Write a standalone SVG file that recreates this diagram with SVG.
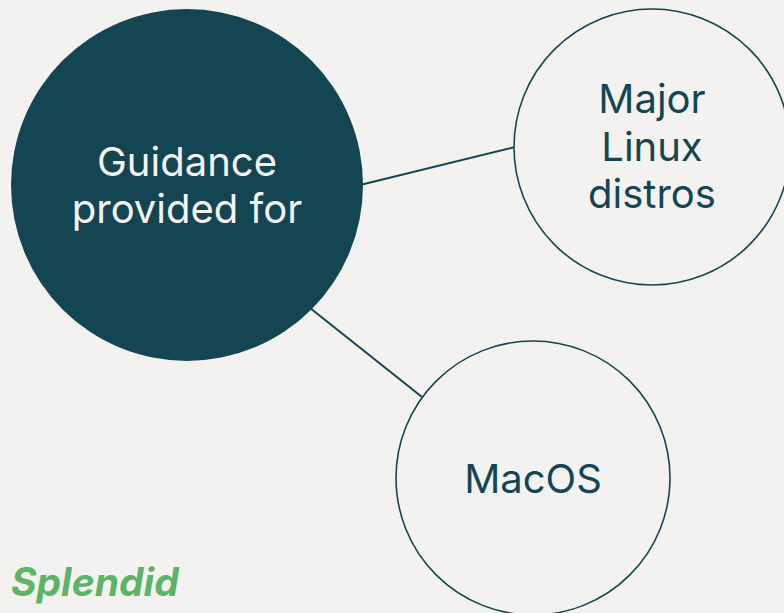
<svg xmlns="http://www.w3.org/2000/svg" width="784" height="613" viewBox="0 0 784 613">
  <style>
    .bg { fill: #f4f2f0; }
    .edge { stroke: #134652; stroke-width: 2; fill: none; }
    .hub { fill: #134652; }
    .leaf { fill: #f4f2f0; stroke: #134652; stroke-width: 1.6; }
    .label { font-family: Inter, "Noto Sans", "Liberation Sans", sans-serif; font-size: 40px; text-anchor: middle; }
    .hub-text { fill: #f4f2f0; }
    .leaf-text { fill: #134652; }
    .brand { font-family: Inter, "Liberation Sans", sans-serif; font-size: 39px; font-weight: 700; font-style: italic; fill: #5cb466; }
  </style>
  <rect class="bg" x="0" y="0" width="784" height="613"/>

  <g id="connectors">
    <line class="edge" x1="360" y1="185" x2="515" y2="147"/>
    <line class="edge" x1="305" y1="304" x2="422" y2="397"/>
  </g>

  <g id="node-guidance">
    <circle class="hub" cx="187" cy="185" r="176"/>
    <text class="label hub-text" x="187" y="176">Guidance</text>
    <text class="label hub-text" x="187" y="223">provided for</text>
  </g>

  <g id="node-linux">
    <circle class="leaf" cx="652" cy="147" r="138"/>
    <text class="label leaf-text" x="652" y="113">Major</text>
    <text class="label leaf-text" x="652" y="161">Linux</text>
    <text class="label leaf-text" x="652" y="208">distros</text>
  </g>

  <g id="node-macos">
    <circle class="leaf" cx="533" cy="478" r="137"/>
    <text class="label leaf-text" x="533" y="493">MacOS</text>
  </g>

  <text class="brand" x="11" y="596">Splendid</text>
</svg>
